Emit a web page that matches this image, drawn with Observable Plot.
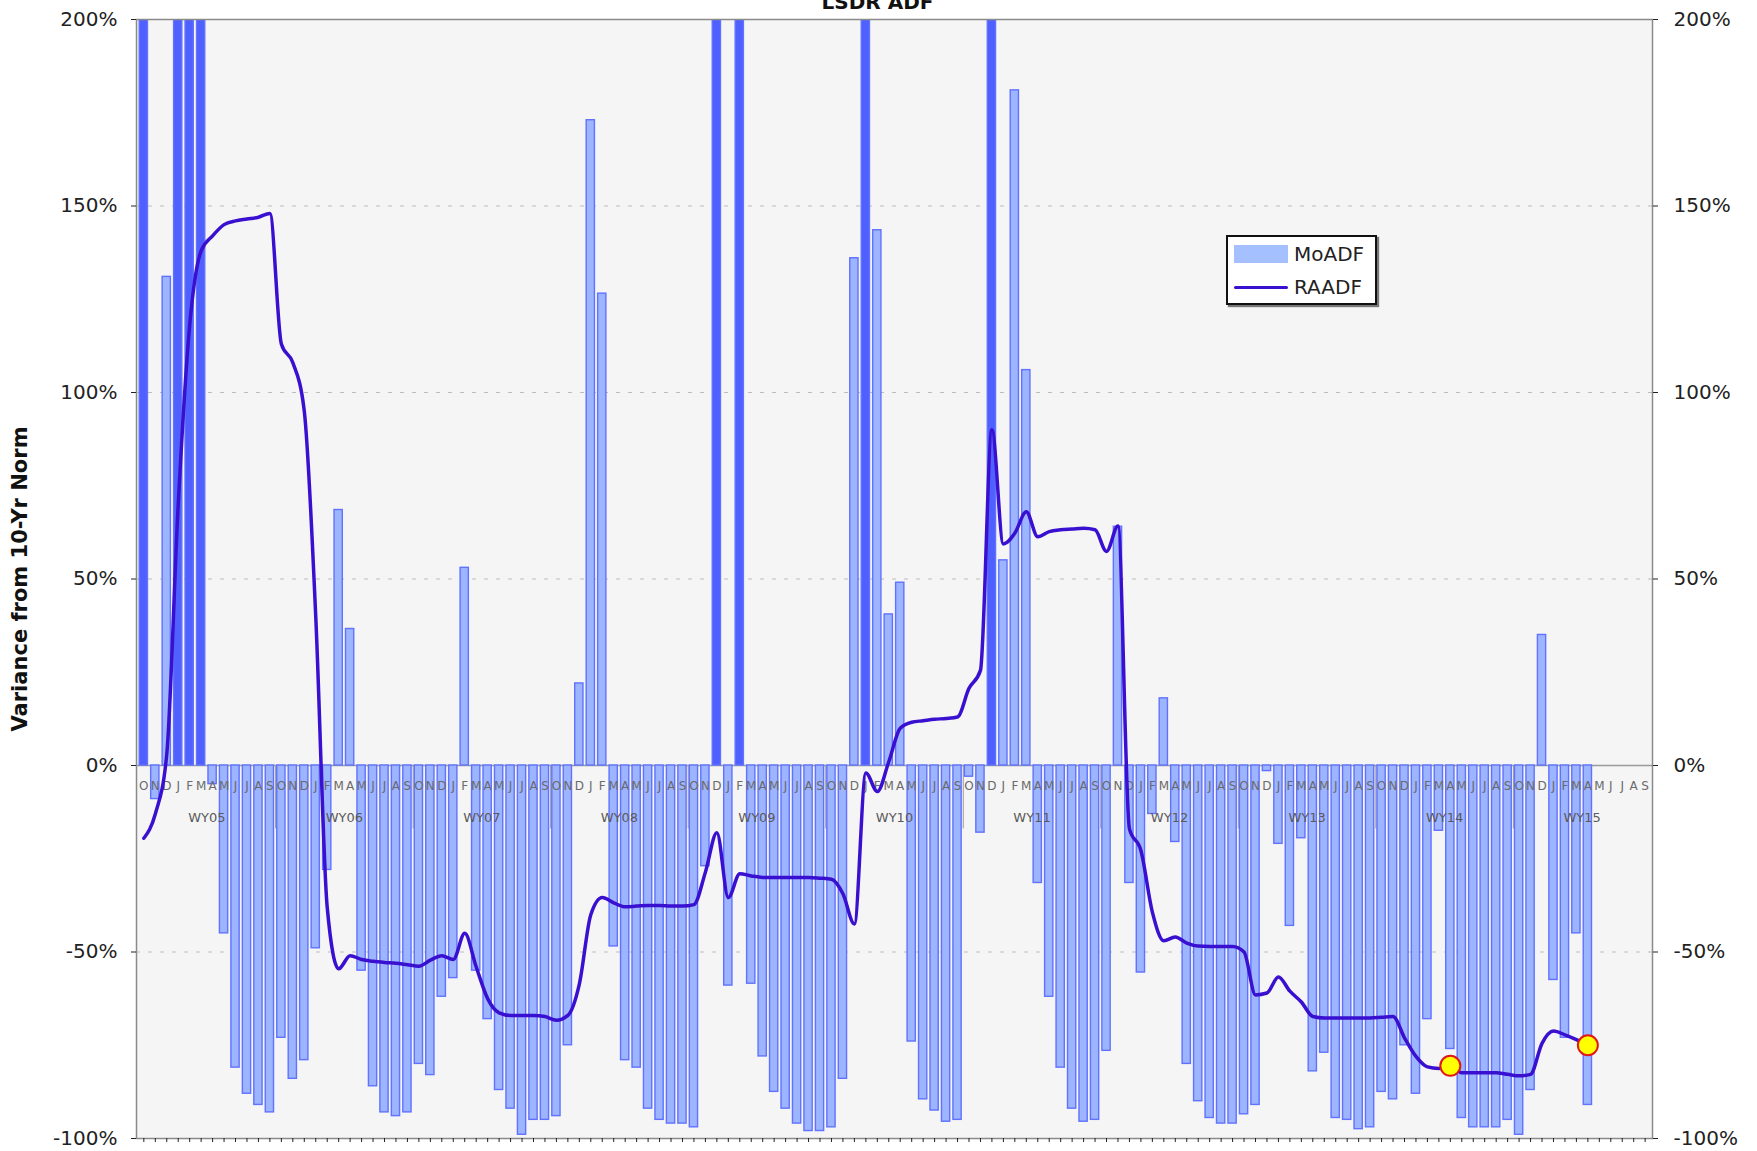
<!DOCTYPE html>
<html>
<head>
<meta charset="utf-8">
<script src="https://cdn.jsdelivr.net/npm/d3@7"></script>
<script src="https://cdn.jsdelivr.net/npm/@observablehq/plot@0.6"></script>
<style>
  body { margin: 0; background: #fff; font-family: "DejaVu Sans", Verdana, sans-serif; }
  #wrap { position: relative; width: 1757px; height: 1151px; overflow: hidden; }
  #legend { position: absolute; left: 1226px; top: 235px; width: 147px; height: 66px;
            border: 2px solid #111; background: #fff; box-shadow: 2px 2px 1px #777; }
  #legend .sw { position: absolute; left: 6px; top: 8px; width: 54px; height: 18px; background: #a4c0ff; }
  #legend .ln { position: absolute; left: 6px; top: 49px; width: 54px; height: 3px; background: #3a10d0; border-radius: 2px; }
  #legend .t { position: absolute; left: 66px; font-size: 20px; color: #222; line-height: 20px; }
</style>
</head>
<body>
<div id="wrap">
  <div id="legend">
    <span class="sw"></span><span class="t" style="top:7px">MoADF</span>
    <span class="ln"></span><span class="t" style="top:40px">RAADF</span>
  </div>
</div>
<script>
// ---- data ----
const monthLetters = ["O","N","D","J","F","M","A","M","J","J","A","S"];
const waterYears = ["WY05","WY06","WY07","WY08","WY09","WY10","WY11","WY12","WY13","WY14","WY15"];
const yTicks = [200, 150, 100, 50, 0, -50, -100];
const gridDashed = [150, 100, 50, -50];

// Monthly ADF variance from 10-yr norm (%), Oct 2004 ... Apr 2015 (bars over 200% are clipped)
const moadf = [
  260, -9, 131, 260, 260, 260, -5, -45, -81, -88, -91, -93,
  -73, -84, -79, -49, -28, 68.5, 36.6, -55, -86, -93, -94, -93,
  -80, -83, -62, -57, 53, -55, -68, -87, -92, -99, -95, -95,
  -94, -75, 22, 173, 126.5, -48.5, -79, -81, -92, -95, -96, -96,
  -97, -27, 260, -59, 260, -58.5, -78, -87.5, -92, -96, -98, -98,
  -97, -84, 136, 260, 143.5, 40.5, 49, -74, -89.5, -92.5, -95.5, -95,
  -3, -18, 260, 55, 181, 106, -31.5, -62, -81, -92, -95.5, -95,
  -76.5, 64, -31.5, -55.5, -13, 18, -20.5, -80, -90, -94.5, -96, -96,
  -93.5, -91, -1.5, -21, -43, -19.5, -82, -77, -94.5, -95, -97.5, -97,
  -87.5, -89.5, -75, -88, -68, -17.5, -76, -94.5, -97, -97, -97, -95,
  -99, -87, 35, -57.5, -73, -45, -91
];
// Rolling annual ADF variance (%)
const raadf = [
  -19.5, -13, 3, 70, 118, 138, 142, 145, 146, 146.5, 147, 148,
  113, 108, 95, 40, -38, -54.5, -51, -52, -52.5, -52.8, -53, -53.4,
  -53.8, -52.2, -51, -52, -45, -54, -62.5, -66.3, -67, -67, -67, -67.3,
  -68.3, -67, -58.6, -40, -35.4, -36.8, -37.9, -37.7, -37.5, -37.5, -37.7, -37.7,
  -37.3, -28.6, -18, -35.4, -29, -29.6, -30, -30, -30, -30, -30, -30.2,
  -30.5, -34.4, -42.5, -2, -7, 1, 10, 11.6, 12, 12.4, 12.6, 13,
  20.7, 25.5, 90, 59.4, 62.3, 68, 61.3, 62.7, 63.2, 63.4, 63.6, 63.2,
  57.4, 64.2, -17, -22.8, -39.3, -47, -46, -47.6, -48.4, -48.5, -48.5, -48.5,
  -50, -61.5, -61, -56.7, -60.5, -63.4, -67.3, -67.7, -67.7, -67.7, -67.7, -67.7,
  -67.5, -67.3, -73, -78, -80.8, -81.2, -80.5, -82.4, -82.4, -82.4, -82.4, -82.8,
  -83.2, -82.8, -74.5, -71.2, -72.2, -73.5, -75
];
const markerMonths = [114, 126];

// ---- tables ----
const nMonths = waterYears.length * 12;
const months = d3.range(nMonths);
const bars = moadf.map((v, i) => ({i, v}));
const line = raadf.map((v, i) => ({i, v}));
const markers = markerMonths.map(i => ({i, v: raadf[i]}));
const letters = months.map(i => ({i, t: monthLetters[i % 12]}));
const wyLabels = waterYears.map((t, k) => ({i: k * 12 + 6, t}));
const seps = waterYears.slice(1).map((t, k) => (k + 1) * 12);

const W = 1757, H = 1151, mL = 136, mR = 105, mT = 19, mB = 13;
const step = (W - mL - mR) / nMonths;
const pct = d => d + "%";

const chart = Plot.plot({
  width: W, height: H,
  marginLeft: mL, marginRight: mR, marginTop: mT, marginBottom: mB,
  style: {fontFamily: "DejaVu Sans, Verdana, sans-serif", fontSize: "20px", background: "transparent", color: "#222"},
  x: {type: "band", domain: months, padding: 0.28},
  y: {domain: [-100, 200]},
  marks: [
    Plot.frame({fill: "#f5f5f5"}),
    Plot.ruleY(gridDashed, {stroke: "#bdbdbd", strokeDasharray: "4,8"}),
    Plot.ruleY([0], {stroke: "#9a9a9a", strokeWidth: 1.5}),
    Plot.ruleX(seps, {x: d => d, y1: 0, y2: -17, dx: -step / 2, stroke: "#9a9a9a"}),
    Plot.barY(bars, {x: "i", y: "v", fill: d => d.v > 200 ? "#4f60ff" : "#9db4ff",
                     stroke: "#6072ff", strokeWidth: 1.4, clip: true}),
    Plot.text(letters, {x: "i", y: () => 0, text: "t", dy: 21, fontSize: 12, fill: "#6a6a6a"}),
    Plot.text(wyLabels, {x: "i", y: () => 0, text: "t", dy: 52, dx: -step / 2, fontSize: 13, fill: "#5a5a5a"}),
    Plot.line(line, {x: "i", y: "v", stroke: "#3a10d0", strokeWidth: 3.5, curve: "monotone-x"}),
    Plot.dot(markers, {x: "i", y: "v", r: 10, fill: "#ffff00", stroke: "#e01818", strokeWidth: 2}),
    Plot.frame({stroke: "#8a8a8a", strokeWidth: 1.5}),
    Plot.axisX({tickSize: 4, tickFormat: () => "", label: null}),
    Plot.axisY(yTicks, {anchor: "left", tickFormat: pct, tickSize: 5, tickPadding: 14, label: null}),
    Plot.axisY(yTicks, {anchor: "right", tickFormat: pct, tickSize: 5, tickPadding: 16, label: null}),
    Plot.text(["Variance from 10-Yr Norm"], {frameAnchor: "left", textAnchor: "middle", rotate: -90, dx: -116, fontSize: 21, fontWeight: "bold", fill: "#111"}),
    Plot.text(["LSDR ADF"], {frameAnchor: "top", lineAnchor: "bottom", dy: -11, dx: -17, fontSize: 20, fontWeight: "bold", fill: "#111"})
  ]
});
document.getElementById("wrap").prepend(chart);
</script>
</body>
</html>
